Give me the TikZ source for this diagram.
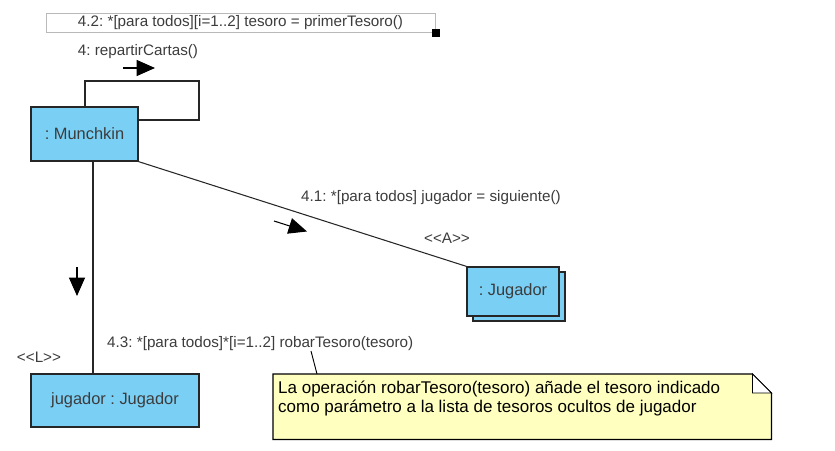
\documentclass[tikz,border=0pt]{standalone}
\usepackage{fontspec}
\setmainfont{Liberation Sans}
\usetikzlibrary{arrows.meta}
\frenchspacing

\definecolor{azulobjeto}{RGB}{122,207,245}
\definecolor{amarillonota}{RGB}{255,255,192}
\definecolor{grismarco}{RGB}{185,185,185}
\definecolor{gristexto}{RGB}{60,60,60}

\tikzset{
  objeto/.style={draw=black!85, fill=azulobjeto, line width=1.1pt, text=gristexto,
    font=\fontsize{14}{16}\selectfont, inner sep=0pt},
  etiqueta/.style={text=gristexto, font=\fontsize{13}{15}\selectfont, inner sep=0pt},
  enlace/.style={draw=black!85, line width=0.9pt},
  mensaje/.style={-{Triangle[length=0.55cm,width=0.48cm]}, line width=0.9pt},
}

\begin{document}
\begin{tikzpicture}[x=0.03cm, y=-0.03cm]
% Marco con las proporciones del original
\useasboundingbox (0,0) rectangle (835,451);

% Objetos
\node[objeto, minimum width=3.21cm, minimum height=1.62cm] (munchkin) at (84.5,134) {: Munchkin};
\node[objeto, minimum width=5.04cm, minimum height=1.59cm] (jugadorL) at (115,400.5) {jugador : Jugador};
% Multiobjeto: dos rectangulos desplazados
\node[objeto, minimum width=2.76cm, minimum height=1.47cm] (fondoA) at (519,296.5) {};
\node[objeto, minimum width=2.76cm, minimum height=1.47cm] (jugadorA) at (513,291.5) {: Jugador};

% Enlaces entre objetos
\draw[enlace] (munchkin.north -| 85,0) |- (199,81) |- (munchkin.east |- 0,120);
\draw[enlace] (munchkin.south -| 93,0) -- (jugadorL.north -| 93,0);
\draw[enlace] (munchkin.south east) -- (jugadorA.north west);

% Flechas de los mensajes
\coordinate (m4ini) at (123,68);
\coordinate (m4fin) at (155,68);
\draw[mensaje] (m4ini) -- (m4fin);
\coordinate (m41ini) at (274,221);
\coordinate (m41fin) at (307,231.5);
\draw[mensaje] (m41ini) -- (m41fin);
\coordinate (m43ini) at (77,267);
\coordinate (m43fin) at (77,296);
\draw[mensaje] (m43ini) -- (m43fin);

% Textos de los mensajes y roles
\node[etiqueta] (msg4) at (138,52) {4: repartirCartas()};
\node[etiqueta, draw=grismarco, line width=0.6pt, minimum width=11.67cm, minimum height=0.57cm] (msg42) at (240.5,22.5) {4.2: *[para todos][i=1..2] tesoro = primerTesoro()};
\fill (432,29) rectangle (440,37);
\node[etiqueta] (msg41) at (431,198) {4.1: *[para todos] jugador = siguiente()};
\node[etiqueta] (rolA) at (447,238) {<\kern0pt<A>\kern0pt>};
\node[etiqueta] (rolL) at (39,357) {<\kern0pt<L>\kern0pt>};
\node[etiqueta, anchor=west] (msg43) at (107,344) {4.3: *[para todos]*[i=1..2] robarTesoro(tesoro)};

% Nota con la esquina doblada
\node[anchor=north west, minimum width=14.94cm, minimum height=1.95cm, inner sep=0pt] (nota) at (273,374) {};
\draw[fill=amarillonota, line width=0.9pt] (nota.south west) -- (nota.north west) -- ([xshift=-0.57cm]nota.north east) -- ([yshift=-0.57cm]nota.north east) -- (nota.south east) -- cycle;
\filldraw[fill=white, line width=0.8pt] ([xshift=-0.57cm]nota.north east) |- ([yshift=-0.57cm]nota.north east) -- cycle;
\node[anchor=north west, align=left, inner sep=0pt, font=\fontsize{14.5}{16.5}\selectfont] (textoNota) at ([shift={(0.15cm,-0.2cm)}]nota.north west)
  {La operación robarTesoro(tesoro) añade el tesoro indicado\\como parámetro a la lista de tesoros ocultos de jugador};
\coordinate (ancla) at (311,351);
\draw[line width=0.8pt] (ancla) -- (nota.north -| 317,0);
\end{tikzpicture}
\end{document}
